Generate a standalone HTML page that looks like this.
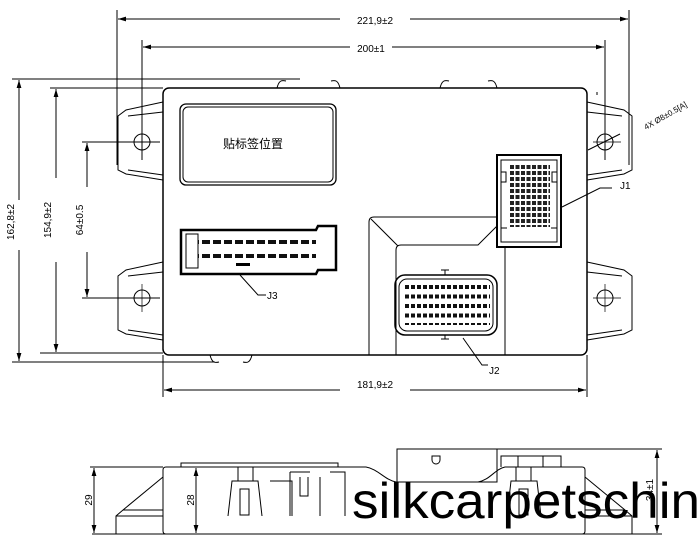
<!DOCTYPE html>
<html><head><meta charset="utf-8"><style>
html,body{margin:0;padding:0;background:#fff;width:700px;height:546px;overflow:hidden}
svg{display:block}
text{font-family:"Liberation Sans","Noto Sans CJK SC",sans-serif;fill:#000}
</style></head><body>
<svg width="700" height="546" viewBox="0 0 700 546" xmlns="http://www.w3.org/2000/svg">
<defs>
<pattern id="p3" x="202" y="240" width="11" height="14" patternUnits="userSpaceOnUse"><rect x="0" y="0" width="8" height="4" fill="#111"/></pattern>
<pattern id="p1" x="510" y="165" width="5.5" height="6" patternUnits="userSpaceOnUse"><rect x="0" y="0" width="4" height="4" fill="#222"/></pattern>
<pattern id="p2" x="405" y="285" width="6" height="9.5" patternUnits="userSpaceOnUse"><rect x="0" y="0" width="4" height="4" fill="#111"/></pattern>
<marker id="a" viewBox="0 0 10 6" refX="10" refY="3" markerWidth="8" markerHeight="5" orient="auto-start-reverse"><path d="M0,0L10,3L0,6z" fill="#000"/></marker>
</defs>
<g fill="none" stroke="#000" stroke-width="1">
<line x1="117" y1="10" x2="117" y2="165"/>
<line x1="629" y1="10" x2="629" y2="165"/>
<line x1="118" y1="19" x2="340" y2="19" marker-start="url(#a)"/>
<line x1="410" y1="19" x2="628" y2="19" marker-end="url(#a)"/>
<line x1="142" y1="40" x2="142" y2="160"/>
<line x1="605" y1="40" x2="605" y2="160"/>
<line x1="143" y1="47" x2="350" y2="47" marker-start="url(#a)"/>
<line x1="392" y1="47" x2="604" y2="47" marker-end="url(#a)"/>
<line x1="12" y1="79" x2="300" y2="79"/>
<line x1="12" y1="362" x2="215" y2="362"/>
<line x1="19" y1="80" x2="19" y2="200" marker-start="url(#a)"/>
<line x1="19" y1="250" x2="19" y2="361" marker-end="url(#a)"/>
<line x1="50" y1="88" x2="163" y2="88"/>
<line x1="40" y1="353" x2="163" y2="353"/>
<line x1="56" y1="89" x2="56" y2="178" marker-start="url(#a)"/>
<line x1="56" y1="262" x2="56" y2="352" marker-end="url(#a)"/>
<line x1="82" y1="142" x2="160" y2="142"/>
<line x1="82" y1="298" x2="160" y2="298"/>
<line x1="87" y1="143" x2="87" y2="187" marker-start="url(#a)"/>
<line x1="87" y1="252" x2="87" y2="297" marker-end="url(#a)"/>
<line x1="163" y1="355" x2="163" y2="397"/>
<line x1="587" y1="355" x2="587" y2="397"/>
<line x1="164" y1="390" x2="340" y2="390" marker-start="url(#a)"/>
<line x1="410" y1="390" x2="586" y2="390" marker-end="url(#a)"/>
<path d="M163,102 L126,110 L118,116 L118,170 L126,174 L163,180"/>
<path d="M163,112 L128,116 M128,170 L163,175"/>
<path d="M163,262 L126,270 L118,276 L118,330 L126,334 L163,340"/>
<path d="M163,272 L128,276 M128,330 L163,335"/>
<path d="M587,102 L624,110 L632,116 L632,170 L624,174 L587,180"/>
<path d="M587,112 L622,116 M622,170 L587,175"/>
<path d="M587,262 L624,270 L632,276 L632,330 L624,334 L587,340"/>
<path d="M587,272 L622,276 M622,330 L587,335"/>
<circle cx="142" cy="142" r="8"/><circle cx="142" cy="298" r="8"/>
<circle cx="605" cy="142" r="8"/><circle cx="605" cy="298" r="8"/>
<path d="M142,128v28M130,142h28M142,284v28M130,298h28M605,128v28M593,142h28M605,284v28M593,298h28" stroke-width=".7"/>
<line x1="588" y1="150" x2="620" y2="134"/>
<rect x="163" y="88" width="424" height="267" rx="6" stroke-width="1.5"/>
<path d="M277,88c2,-8 5,-8 9,-7M340,88c-2,-8 -5,-8 -9,-7M440,88c2,-8 5,-8 9,-7M497,88c-2,-8 -5,-8 -9,-7"/>
<path d="M210,355c2,8 5,8 9,7M252,355c-2,8 -5,8 -9,7"/>
<rect x="180" y="104" width="156" height="81" rx="6" stroke-width="1.3"/>
<rect x="183" y="107" width="150" height="75" rx="5"/>
<path d="M181,230 H316 L318,226 H336 V270 H318 L316,274 H181 Z" stroke-width="2.5"/>
<rect x="186" y="234" width="12" height="34"/>
<path d="M369,355 V222 Q369,217 374,217 H497"/>
<path d="M396,355 V250 Q396,245 401,245 H478 L497,226"/>
<path d="M371,219 L398,246"/>
<line x1="505" y1="247" x2="505" y2="355"/>
<rect x="395" y="275" width="102" height="60" rx="10" stroke-width="1.5"/>
<rect x="399" y="279" width="94" height="52" rx="8"/>
<path d="M441,270h8M445,270v5M441,339h8M445,335v4"/>
<path d="M497,155 H561 V247 H497 Z" stroke-width="2"/>
<path d="M501,160 H557 V242 H501 Z M501,172 h5 v10 h-5 M557,172 h-5 v10 h5 M501,228 h6 M557,228 h-6"/>
<path d="M562,207 L600,188 H612"/>
<path d="M240,275 L258,295 H266"/>
<path d="M463,338 L482,365 H488"/>
<path d="M597,92 V95"/>
<!-- side view -->
<path d="M90,467 H163"/>
<line x1="94" y1="468" x2="94" y2="533" marker-start="url(#a)" marker-end="url(#a)"/>
<line x1="196" y1="468" x2="196" y2="533" marker-start="url(#a)" marker-end="url(#a)"/>
<line x1="657" y1="450" x2="657" y2="533" marker-start="url(#a)" marker-end="url(#a)"/>
<path d="M92,534 H662 M497,449 H662"/>
<path d="M166,467 H366 C378,469 385,480 396,482 H478 C490,480 495,469 505,467 H582 Q585,467 585,470 V531 Q585,534 582,534 H166 Q163,534 163,531 V470 Q163,467 166,467 Z"/>
<rect x="181" y="463" width="157" height="4"/>
<rect x="397" y="449" width="100" height="33"/>
<path d="M432,456 h8 v4 a4,4 0 0 1 -8,0 z"/>
<path d="M501,467 V456 H561 V467 M518,456 V467 M543,456 V467"/>
<path d="M163,477 L123,510 L116,516 V534 M123,510 H163 M116,516 H163"/>
<path d="M585,477 L625,510 L632,516 V534 M625,510 H585 M632,516 H585"/>
<path d="M238,467 V481 M253,467 V481 M228,516 L232,481 H258 L262,516 M240,489h9v26h-9z"/>
<path d="M516,467 V481 M531,467 V481 M507,516 L511,481 H537 L541,516 M519,489h9v26h-9z"/>
<path d="M270,481 H292 V516 M290,472 H310 M290,472 V516 M300,477 V496 h8 v-19 M320,477 V516 M330,472 H345 V516"/>
</g>
<rect x="198" y="240" width="118" height="22" fill="url(#p3)"/>
<rect x="510" y="165" width="40" height="62" fill="url(#p1)"/>
<rect x="405" y="285" width="85" height="40" fill="url(#p2)"/>
<rect x="236" y="263" width="14" height="3" fill="#000"/>
<text x="253" y="148" font-size="12" text-anchor="middle">贴标签位置</text>
<text x="375" y="24" font-size="10" text-anchor="middle">221,9±2</text>
<text x="371" y="52" font-size="10" text-anchor="middle">200±1</text>
<text x="375" y="388" font-size="10" text-anchor="middle">181,9±2</text>
<text x="620" y="189" font-size="10">J1</text>
<text x="489" y="374" font-size="10">J2</text>
<text x="267" y="299" font-size="10">J3</text>
<text transform="translate(646,130) rotate(-30)" font-size="8">4X Ø8±0.5[A]</text>
<text transform="translate(14,222) rotate(-90)" font-size="10" text-anchor="middle">162,8±2</text>
<text transform="translate(51,220) rotate(-90)" font-size="10" text-anchor="middle">154,9±2</text>
<text transform="translate(83,220) rotate(-90)" font-size="10" text-anchor="middle">64±0.5</text>
<text transform="translate(92,500) rotate(-90)" font-size="10" text-anchor="middle">29</text>
<text transform="translate(194,500) rotate(-90)" font-size="10" text-anchor="middle">28</text>
<text transform="translate(653,490) rotate(-90)" font-size="10" text-anchor="middle">34±1</text>
<text x="352" y="518" font-size="50" textLength="348" lengthAdjust="spacingAndGlyphs">silkcarpetschin</text>
</svg>
</body></html>
